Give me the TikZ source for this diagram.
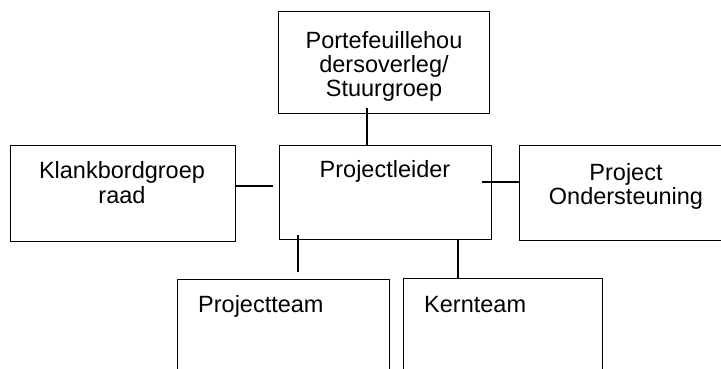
\documentclass[tikz,border=0pt]{standalone}
\usepackage{fontspec}
\setmainfont{Liberation Sans}
\begin{document}
\begin{tikzpicture}[x=1pt,y=-1pt,
  box/.style={draw, line width=1.3pt, rectangle, inner sep=0pt, anchor=north west},
  lab/.style={font=\fontsize{23.5}{24.5}\selectfont, align=center, inner sep=0pt},
  conn/.style={line width=1.3pt}]
\useasboundingbox (0,0) rectangle (721,369);
% boxes
\node[box, minimum width=211pt, minimum height=102pt] (pf) at (278,11) {};
\node[box, minimum width=212pt, minimum height=94pt] (pl) at (279,145) {};
\node[box, minimum width=225pt, minimum height=96pt] (kb) at (10,145) {};
\node[box, minimum width=215pt, minimum height=95pt] (po) at (519,145) {};
\node[box, minimum width=212pt, minimum height=120pt] (pt) at (177,279) {};
\node[box, minimum width=199pt, minimum height=120pt] (kt) at (403,278) {};
% labels (base anchor = baseline of the last line)
\node[lab, anchor=base] (pfl) at (384,97) {Portefeuillehou\\dersoverleg/\\Stuurgroep};
\node[lab, anchor=base] (pll) at (385,177) {Projectleider};
\node[lab, anchor=base] (kbl) at (122,203) {Klankbordgroep\\raad};
\node[lab, anchor=base] (pol) at (626,204.5) {Project\\Ondersteuning};
\node[lab, anchor=base west] (ptl) at (198,312) {Projectteam};
\node[lab, anchor=base west] (ktl) at (424,312) {Kernteam};
% connectors
\coordinate (pfs) at (367,108);
\draw[conn] (pfs) -- (pfs |- pl.north);
\coordinate (kbe) at (273,186);
\draw[conn] (kbe -| kb.east) -- (kbe);
\coordinate (pls) at (482,182);
\draw[conn] (pls) -- (pls -| po.west);
\coordinate (pt1) at (298,235);
\coordinate (pt2) at (298,272);
\draw[conn] (pt1) -- (pt2);
\coordinate (kt1) at (458,239);
\draw[conn] (kt1) -- (kt1 |- kt.north);
\end{tikzpicture}
\end{document}
